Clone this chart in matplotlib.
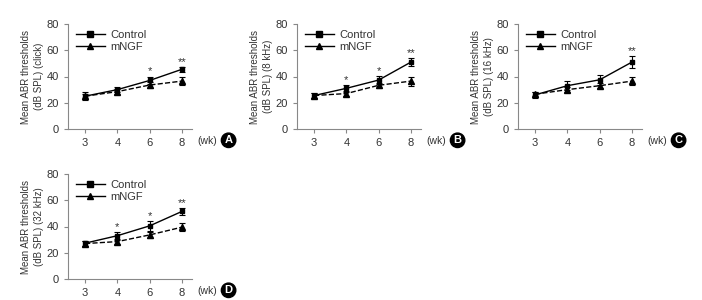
import numpy as np
import matplotlib
matplotlib.use('Agg')
import matplotlib.pyplot as plt
from matplotlib.lines import Line2D

plt.rcParams['font.family'] = ['Liberation Sans', 'DejaVu Sans']

# Data
weeks = ['3', '4', '6', '8']
panels = ['A', 'B', 'C', 'D']
ylabels = ['(dB SPL) (click)', '(dB SPL) (8 kHz)', '(dB SPL) (16 kHz)', '(dB SPL) (32 kHz)']

control = {
    'A': [25, 30, 37, 45.5],
    'B': [25.5, 31, 37.3, 51],
    'C': [26, 33, 37.5, 51],
    'D': [27.3, 33, 40.5, 51.5],
}
control_err = {
    'A': [3, 2, 3, 2],
    'B': [2, 2.5, 3, 3],
    'C': [2, 3.5, 4, 4.5],
    'D': [2, 3, 4, 2.5],
}
mngf = {
    'A': [25, 28.5, 33.5, 36.5],
    'B': [25.5, 27, 33.3, 36.5],
    'C': [26.5, 30, 33, 36.5],
    'D': [27, 28.5, 33.6, 39.5],
}
mngf_err = {
    'A': [2, 2, 2, 3],
    'B': [2, 2, 2, 3.5],
    'C': [2, 2, 2, 3],
    'D': [2, 2, 2, 3],
}
stars = {
    'A': ['', '', '*', '**'],
    'B': ['', '*', '*', '**'],
    'C': ['', '', '', '**'],
    'D': ['', '*', '*', '**'],
}

W, H = 702, 300
fig = plt.figure(figsize=(W / 100, H / 100), dpi=100)

# pixel positions of axes (left, top of 80)
pos = {'A': (68, 24), 'B': (297, 24), 'C': (518, 24), 'D': (68, 174)}
aw, ah = 124, 105
txt = '#333333'
spine = '#888888'

x = np.arange(len(weeks))
for i_p, p in enumerate(panels):
    l, t = pos[p]
    ax = fig.add_axes([l / W, (H - t - ah) / H, aw / W, ah / H])
    ax.errorbar(x, control[p], yerr=control_err[p], color='black', lw=1,
                marker='s', ms=3.5, capsize=2, elinewidth=0.8, capthick=0.8)
    ax.errorbar(x, mngf[p], yerr=mngf_err[p], color='black', lw=1, ls='--',
                marker='^', ms=4, capsize=2, elinewidth=0.8, capthick=0.8)
    for i, s in enumerate(stars[p]):
        if s:
            ax.text(x[i], control[p][i] + control_err[p][i], s,
                    ha='center', va='bottom', fontsize=8, color=txt)
    ax.set_xlim(-0.53, 3.31)
    ax.set_ylim(0, 80)
    ax.set_yticks([0, 20, 40, 60, 80])
    ax.set_xticks(x)
    ax.set_xticklabels(weeks)
    for side in ['top', 'right']:
        ax.spines[side].set_visible(False)
    for side in ['left', 'bottom']:
        ax.spines[side].set_color(spine)
        ax.spines[side].set_linewidth(0.8)
    ax.tick_params(colors=spine, labelcolor=txt, labelsize=8, length=3, width=0.8)
    ax.set_ylabel('Mean ABR thresholds\n' + ylabels[i_p],
                  fontsize=7, color=txt, labelpad=2, linespacing=1.35)
    handles = [
        Line2D([], [], color='black', lw=1, marker='s', ms=4),
        Line2D([], [], color='black', lw=1, marker='^', ms=4.5),
    ]
    leg = ax.legend(handles, ['Control', 'mNGF'], loc='upper left',
                    frameon=False, fontsize=8, handlelength=2.6,
                    handletextpad=0.5, borderaxespad=0.1, labelspacing=0.25,
                    bbox_to_anchor=(0.02, 1.0))
    for tx in leg.get_texts():
        tx.set_color(txt)
    ax.text(1.04, -0.07, '(wk)', transform=ax.transAxes, fontsize=7.5,
            color=txt, ha='left', va='top')
    ax.text(1.295, -0.06, p, transform=ax.transAxes, fontsize=8,
            color='white', fontweight='bold', ha='center', va='top',
            bbox=dict(boxstyle='circle,pad=0.2', fc='black', ec='black'))

fig.savefig('out.png', dpi=100)
